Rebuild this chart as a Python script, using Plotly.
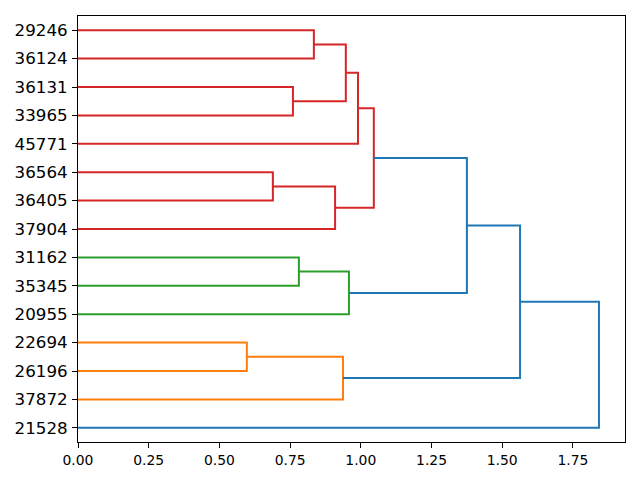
import plotly.graph_objects as go

# Leaf labels in dendrogram order, bottom to top
leaf_labels = ["21528", "37872", "26196", "22694", "20955", "35345", "31162",
               "37904", "36405", "36564", "45771", "33965", "36131", "36124", "29246"]

# Linkage-like merge table: child A, child B (ids: leaves 0..14, clusters 15+), height, colour group
merge_a = [3, 15, 9, 17, 12, 14, 20, 21, 22, 6, 24, 23, 26, 27]
merge_b = [2, 1, 8, 7, 11, 13, 19, 10, 18, 5, 4, 25, 16, 0]
merge_h = [0.597, 0.937, 0.689, 0.909, 0.760, 0.834, 0.947, 0.990, 1.046,
           0.781, 0.958, 1.375, 1.563, 1.842]
merge_c = ["C1", "C1", "C3", "C3", "C3", "C3", "C3", "C3", "C3",
           "C2", "C2", "C0", "C0", "C0"]

palette = {"C0": "#1f77b4", "C1": "#ff7f0e", "C2": "#2ca02c", "C3": "#d62728"}

n = len(leaf_labels)
pos = {i: 5 + 10 * i for i in range(n)}
hgt = {i: 0.0 for i in range(n)}

fig = go.Figure()
for k, (a, b, h, c) in enumerate(zip(merge_a, merge_b, merge_h, merge_c)):
    node = n + k
    xs = [hgt[a], h, h, hgt[b]]
    ys = [pos[a], pos[a], pos[b], pos[b]]
    fig.add_trace(go.Scatter(x=xs, y=ys, mode="lines",
                             line=dict(color=palette[c], width=2),
                             showlegend=False, hoverinfo="skip"))
    pos[node] = (pos[a] + pos[b]) / 2
    hgt[node] = h

xmax = max(merge_h) * 1.05

fig.update_layout(
    width=640, height=480,
    margin=dict(l=70, r=23, t=8, b=46),
    plot_bgcolor="white", paper_bgcolor="white",
    font=dict(family="DejaVu Sans", color="black"),
)
fig.update_xaxes(range=[0, xmax], tickvals=[0, 0.25, 0.5, 0.75, 1.0, 1.25, 1.5, 1.75],
                 tickformat=".2f", ticks="outside", ticklen=5, tickwidth=1,
                 tickcolor="black", showgrid=False, zeroline=False,
                 showline=True, linecolor="black", linewidth=1, mirror=True,
                 tickfont=dict(size=13.9), automargin=False)
fig.update_yaxes(range=[0, 10 * n], tickvals=[pos[i] for i in range(n)],
                 ticktext=leaf_labels, ticks="outside", ticklen=5, tickwidth=1,
                 tickcolor="black", showgrid=False, zeroline=False,
                 showline=True, linecolor="black", linewidth=1, mirror=True,
                 tickfont=dict(size=16.7), ticklabelstandoff=1, automargin=False)

fig.write_html("out.html")
